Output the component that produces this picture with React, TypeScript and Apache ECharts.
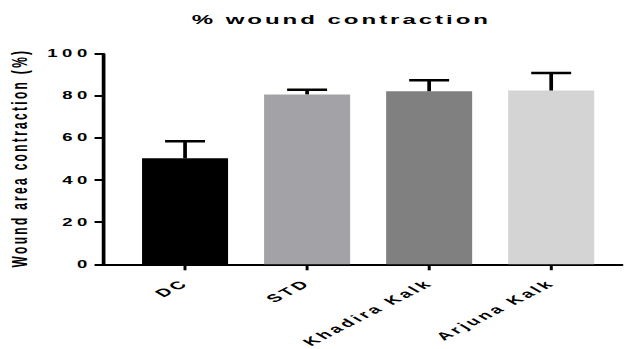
import React, { useEffect, useRef } from "react";
import * as echarts from "echarts";

const categories = ["DC", "STD", "Khadira Kalk", "Arjuna Kalk"];
const means = [50.4, 80.8, 82.3, 82.7];
const sds = [8.1, 2.2, 5.2, 8.3];
const barColors = ["#000000", "#a3a2a7", "#808080", "#d4d4d4"];
const positions = [0, 1, 2, 3];
const yTickLabels = ["0", "20", "40", "60", "80", "100"];
const titleText = "% wound contraction";
const yName = "Wound area contraction (%)";

const STRETCH = 1.85;
const W = 624;
const H = 349;
const W0 = W / STRETCH;
const FONT = "'Liberation Sans', Arial, sans-serif";

export default function App() {
  const ref = useRef<HTMLDivElement>(null);
  useEffect(() => {
    const el = ref.current!;
    const chart = echarts.init(el, undefined, { renderer: "svg" });
    const gridLeft = 55.7;
    const gridRight = 336.2;
    const option: any = {
      animation: false,
      grid: {
        left: gridLeft,
        top: 54,
        width: gridRight - gridLeft,
        height: 210.3,
        containLabel: false,
        outerBoundsMode: "none",
      },
      graphic: [
        {
          type: "text",
          x: 184.5,
          y: 20,
          style: {
            text: titleText,
            textAlign: "center",
            textVerticalAlign: "middle",
            fontFamily: FONT,
            fontWeight: "bold",
            fontSize: 13,
            fill: "#000",
          },
        },
        {
          type: "text",
          x: 10.5,
          y: 158,
          rotation: Math.PI / 2,
          style: {
            text: yName,
            textAlign: "center",
            textVerticalAlign: "middle",
            fontFamily: FONT,
            fontWeight: "bold",
            fontSize: 12,
            fill: "#000",
          },
        },
      ],
      xAxis: {
        type: "value",
        min: -0.672,
        max: 3.58,
        splitLine: { show: false },
        axisLine: { show: true, onZero: false, lineStyle: { color: "#000", width: 2 } },
        axisTick: {
          show: true,
          customValues: positions,
          length: 6,
          lineStyle: { color: "#000", width: 1.6 },
        },
        axisLabel: {
          customValues: positions,
          formatter: (v: number) => categories[Math.round(v)],
          rotate: 43,
          margin: 17,
          fontFamily: FONT,
          fontWeight: "bold",
          fontSize: 11,
          color: "#000",
        },
      },
      yAxis: {
        type: "value",
        min: 0,
        max: 100,
        interval: 20,
        splitLine: { show: false },
        axisLine: { show: true, onZero: false, lineStyle: { color: "#000", width: 2 } },
        axisTick: { show: true, length: 4.6, lineStyle: { color: "#000", width: 2 } },
        axisLabel: {
          margin: 6,
          fontFamily: FONT,
          fontWeight: "bold",
          fontSize: 10,
          color: "#000",
        },
      },
      series: [
        {
          type: "bar",
          barWidth: 46.5,
          z: 2,
          data: positions.map((p, i) => ({
            value: [p, means[i]],
            itemStyle: { color: barColors[i] },
          })),
        },
        {
          type: "custom",
          z: 3,
          encode: { x: 0, y: [1, 2] },
          data: positions.map((p, i) => [p, means[i], means[i] + sds[i]]),
          renderItem: (params: any, api: any) => {
            const x = api.value(0);
            const top = api.coord([x, api.value(2)]);
            const base = api.coord([x, api.value(1)]);
            const hw = 10.8;
            return {
              type: "group",
              children: [
                {
                  type: "line",
                  shape: { x1: top[0], y1: top[1], x2: base[0], y2: base[1] },
                  style: { stroke: "#000", lineWidth: 2 },
                },
                {
                  type: "line",
                  shape: { x1: top[0] - hw, y1: top[1], x2: top[0] + hw, y2: top[1] },
                  style: { stroke: "#000", lineWidth: 2.5 },
                },
              ],
            };
          },
        },
      ],
    };
    chart.setOption(option);
    const applySpacing = () => {
      el.querySelectorAll("text").forEach((t) => {
        const s = (t.textContent || "").trim();
        let ls = 0;
        if (s === titleText) ls = 1.6;
        else if (s === yName) ls = 2.3;
        else if (yTickLabels.includes(s)) ls = 2.5;
        else if (categories.includes(s)) ls = 2;
        if (ls) (t as any).style.letterSpacing = ls + "px";
      });
    };
    applySpacing();
    chart.on("finished", applySpacing);
    const tm = setTimeout(applySpacing, 50);
    return () => {
      clearTimeout(tm);
      chart.dispose();
    };
  }, []);
  return (
    <div
      style={{
        position: "fixed",
        left: 0,
        top: 0,
        width: W,
        height: H,
        overflow: "hidden",
        background: "#fff",
      }}
    >
      <div
        ref={ref}
        style={{
          width: W0,
          height: H,
          transform: `scaleX(${STRETCH})`,
          transformOrigin: "0 0",
        }}
      />
    </div>
  );
}
